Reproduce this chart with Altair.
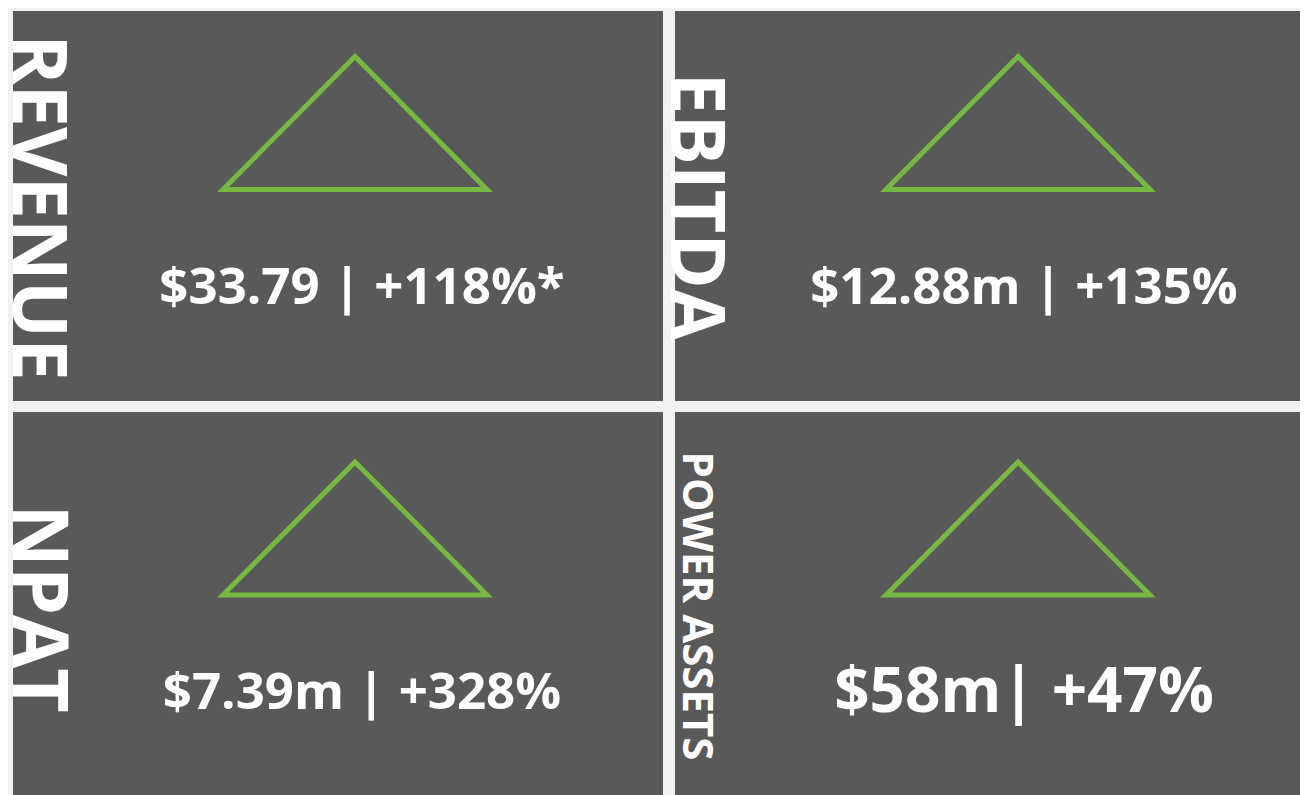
import altair as alt
import pandas as pd

# ---- content ----
kpi_names = ["REVENUE", "EBITDA", "NPAT", "POWER ASSETS"]
kpi_values = ["$33.79 | +118%*", "$12.88m | +135%", "$7.39m | +328%", "$58m| +47%"]

# ---- layout (page pixel units) ----
panel_left = [13, 675, 13, 675]
panel_right = [663, 1308, 663, 1308]
panel_top = [11, 11, 412, 412]
panel_bottom = [401, 401, 795, 795]

tri_apex_x = [355, 1018, 355, 1018]
tri_apex_y = [56.5, 56.5, 462, 462]
tri_half_width = 132
tri_height = 133

value_x = [362, 1024, 362, 1024]
value_y = [304, 304, 709, 712]
value_size = [51, 51, 51, 62]

label_x = [13, 671, 13, 683]
label_y = [207.5, 206.5, 608.5, 606]
label_size = [76, 75, 77, 42]

GREEN = "#77B843"
PANEL = "#595959"
BG = "#F2F2F2"

panel_df = pd.DataFrame({"kpi": kpi_names, "x0": panel_left, "x1": panel_right,
                         "y0": panel_top, "y1": panel_bottom})

tri_rows = []
for k, ax, ay in zip(kpi_names, tri_apex_x, tri_apex_y):
    tri_rows.append({"kpi": k, "v": 0, "x": ax, "y": ay})
    tri_rows.append({"kpi": k, "v": 1, "x": ax + tri_half_width, "y": ay + tri_height})
    tri_rows.append({"kpi": k, "v": 2, "x": ax - tri_half_width, "y": ay + tri_height})
tri_df = pd.DataFrame(tri_rows)

val_df = pd.DataFrame({"kpi": kpi_names, "value": kpi_values, "x": value_x,
                       "y": value_y, "fs": value_size})
lab_df = pd.DataFrame({"kpi": kpi_names, "x": label_x, "y": label_y, "fs": label_size})

# chart area covers page pixels x 8..1300, y 8..795
xs = alt.Scale(domain=[8, 1300], nice=False, zero=False)
ys = alt.Scale(domain=[8, 795], nice=False, zero=False, reverse=True)

panels = alt.Chart(panel_df).mark_rect(color=PANEL, clip=True).encode(
    x=alt.X("x0:Q", scale=xs, axis=None),
    x2="x1:Q",
    y=alt.Y("y0:Q", scale=ys, axis=None),
    y2="y1:Q",
)

tris = alt.Chart(tri_df).mark_line(
    color=GREEN, strokeWidth=5, interpolate="linear-closed", strokeJoin="miter"
).encode(
    x=alt.X("x:Q", scale=xs, axis=None),
    y=alt.Y("y:Q", scale=ys, axis=None),
    detail="kpi:N",
    order="v:Q",
)

values = alt.Chart(val_df).mark_text(
    color="white", font="Open Sans", fontWeight="bold", align="center", baseline="alphabetic"
).encode(
    x=alt.X("x:Q", scale=xs, axis=None),
    y=alt.Y("y:Q", scale=ys, axis=None),
    text="value:N",
    size=alt.Size("fs:Q", scale=None, legend=None),
)

labels = alt.Chart(lab_df).mark_text(
    color="white", font="Open Sans", fontWeight="bold", align="center",
    baseline="alphabetic", angle=90
).encode(
    x=alt.X("x:Q", scale=xs, axis=None),
    y=alt.Y("y:Q", scale=ys, axis=None),
    text="kpi:N",
    size=alt.Size("fs:Q", scale=None, legend=None),
)

chart = alt.layer(panels, tris, values, labels).properties(
    width=1292, height=787, padding=0, autosize=alt.AutoSizeParams(type="none"),
    background=BG,
).configure_view(stroke=None)

chart.save("out.html", embed_options={"renderer": "svg", "actions": False})
